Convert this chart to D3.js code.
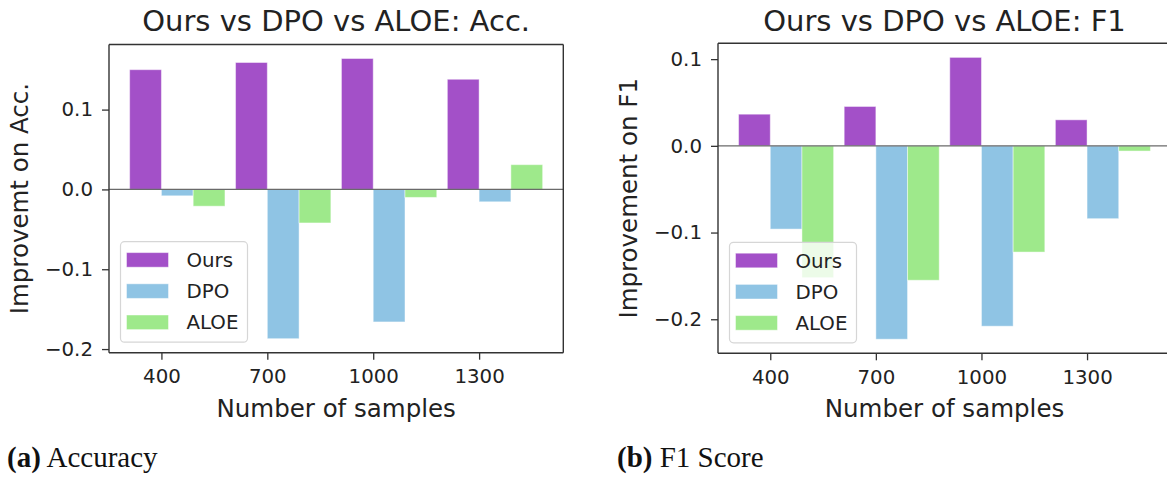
<!DOCTYPE html>
<html>
<head>
<meta charset="utf-8">
<script src="https://cdn.jsdelivr.net/npm/d3@7"></script>
<style>
  html, body { margin: 0; padding: 0; background: #fff; }
  svg { display: block; }
  .tick text { font-family: "DejaVu Sans", sans-serif; }
</style>
</head>
<body>
<svg id="fig" width="1167" height="477"></svg>
<script>
// Sample sizes on the x axis
const samples = [400, 700, 1000, 1300];
const seriesNames = ["Ours", "DPO", "ALOE"];
const seriesColors = ["#a350c8", "#8fc4e4", "#9ee98b"];

// Improvement on accuracy
const accOurs = [0.150, 0.159, 0.164, 0.138];
const accDPO  = [-0.008, -0.187, -0.166, -0.0155];
const accALOE = [-0.021, -0.042, -0.010, 0.031];

// Improvement on F1
const f1Ours = [0.0365, 0.0454, 0.102, 0.030];
const f1DPO  = [-0.096, -0.223, -0.208, -0.084];
const f1ALOE = [-0.152, -0.155, -0.1225, -0.006];

const yTicks = [-0.2, -0.1, 0.0, 0.1];
const barWidth = 90; // in sample units

const svg = d3.select("#fig");
const fontSans = "'DejaVu Sans', sans-serif";
const textColor = "#222";

function drawPanel(cfg) {
  const { left, right, top, bottom, series, title, yLabel, caption, captionX, showRight } = cfg;
  const g = svg.append("g");

  // x extent: bars span [x - w, x + 2w], padded by 5% each side
  const xmin = d3.min(samples) - barWidth, xmax = d3.max(samples) + 2 * barWidth;
  const xpad = (xmax - xmin) * 0.05;
  const x = d3.scaleLinear().domain([xmin - xpad, xmax + xpad]).range([left, right]);

  const all = series.flat();
  const ymin = d3.min(all), ymax = d3.max(all);
  const ypad = (ymax - ymin) * 0.05;
  const y = d3.scaleLinear().domain([ymin - ypad, ymax + ypad]).range([bottom, top]);

  // bars: Ours left of the tick, DPO right of it, ALOE next
  series.forEach((vals, si) => {
    g.append("g").selectAll("rect").data(vals).join("rect")
      .attr("x", (d, i) => x(samples[i] + (si - 1) * barWidth))
      .attr("width", (d, i) => x(samples[i] + si * barWidth) - x(samples[i] + (si - 1) * barWidth))
      .attr("y", d => y(Math.max(0, d)))
      .attr("height", d => Math.abs(y(d) - y(0)))
      .attr("fill", seriesColors[si])
      .attr("stroke", "rgba(255,255,255,0.45)")
      .attr("stroke-width", 1);
  });

  // zero reference line
  g.append("line")
    .attr("x1", left).attr("x2", right)
    .attr("y1", y(0)).attr("y2", y(0))
    .attr("stroke", "#6a6a6a").attr("stroke-width", 1.4);

  // axes
  const xAxis = d3.axisBottom(x).tickValues(samples).tickSize(7).tickPadding(5).tickFormat(d3.format("d"));
  const yAxis = d3.axisLeft(y).tickValues(yTicks).tickSize(7).tickPadding(9).tickFormat(d3.format(".1f"));

  const gx = g.append("g").attr("transform", `translate(0,${bottom})`).call(xAxis);
  const gy = g.append("g").attr("transform", `translate(${left},0)`).call(yAxis);
  [gx, gy].forEach(a => {
    a.select(".domain").remove();
    a.selectAll(".tick line").attr("stroke", "#333").attr("stroke-width", 1.3);
    a.selectAll(".tick text").attr("fill", textColor).style("font-size", "19.8px");
  });
  gx.selectAll(".tick text").attr("dy", "0.95em");

  // frame
  const frame = g.append("g").attr("fill", "none").attr("stroke", "#333").attr("stroke-width", 1.4);
  frame.append("line").attr("x1", left).attr("x2", left).attr("y1", top).attr("y2", bottom);
  frame.append("line").attr("x1", left).attr("x2", right).attr("y1", bottom).attr("y2", bottom);
  frame.append("line").attr("x1", left).attr("x2", right).attr("y1", top).attr("y2", top);
  if (showRight) frame.append("line").attr("x1", right).attr("x2", right).attr("y1", top).attr("y2", bottom);

  // title
  g.append("text")
    .attr("x", (left + right) / 2).attr("y", 31)
    .attr("text-anchor", "middle")
    .attr("font-family", fontSans).attr("font-size", 29)
    .attr("fill", textColor).text(title);

  // axis labels
  g.append("text")
    .attr("x", (left + right) / 2).attr("y", 417)
    .attr("text-anchor", "middle")
    .attr("font-family", fontSans).attr("font-size", 24.5)
    .attr("fill", textColor).text("Number of samples");

  g.append("text")
    .attr("transform", `translate(${left - 81},${(top + bottom) / 2}) rotate(-90)`)
    .attr("text-anchor", "middle")
    .attr("font-family", fontSans).attr("font-size", 24.5)
    .attr("fill", textColor).text(yLabel);

  // legend
  const lx = left + 11.5, lh = 100.5, ly = bottom - 10.5 - lh;
  const lg = g.append("g");
  lg.append("rect")
    .attr("x", lx).attr("y", ly).attr("width", 127).attr("height", lh)
    .attr("rx", 4).attr("ry", 4)
    .attr("fill", "rgba(255,255,255,0.8)")
    .attr("stroke", "#d6d6d6").attr("stroke-width", 1.2);
  seriesNames.forEach((name, i) => {
    const cy = ly + 18.2 + i * 31.2;
    lg.append("rect")
      .attr("x", lx + 6).attr("y", cy - 7.3).attr("width", 42).attr("height", 14.6)
      .attr("fill", seriesColors[i])
      .attr("stroke", "rgba(255,255,255,0.45)").attr("stroke-width", 1);
    lg.append("text")
      .attr("x", lx + 66).attr("y", cy + 7)
      .attr("font-family", fontSans).attr("font-size", 19.8)
      .attr("fill", textColor).text(name);
  });

  // caption
  const cap = svg.append("text")
    .attr("x", captionX).attr("y", 467)
    .attr("font-family", "'Liberation Serif', serif").attr("font-size", 29)
    .attr("fill", "#111");
  cap.append("tspan").attr("font-weight", "bold").text(caption[0]);
  cap.append("tspan").text(" " + caption[1]);
}

drawPanel({
  left: 109, right: 563.3, top: 44.5, bottom: 352.7,
  series: [accOurs, accDPO, accALOE],
  title: "Ours vs DPO vs ALOE: Acc.",
  yLabel: "Improvemt on Acc.",
  caption: ["(a)", "Accuracy"], captionX: 7,
  showRight: true
});

drawPanel({
  left: 718, right: 1171, top: 43.3, bottom: 353.3,
  series: [f1Ours, f1DPO, f1ALOE],
  title: "Ours vs DPO vs ALOE: F1",
  yLabel: "Improvement on F1",
  caption: ["(b)", "F1 Score"], captionX: 617,
  showRight: true
});
</script>
</body>
</html>
